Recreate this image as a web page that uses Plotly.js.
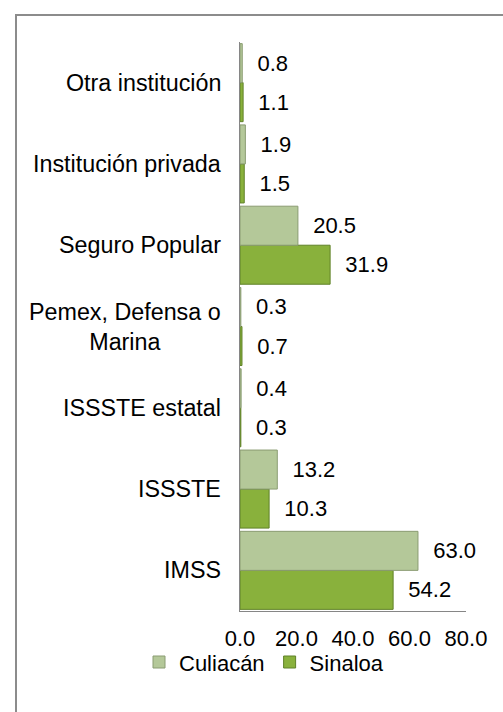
<!DOCTYPE html>
<html>
<head>
<meta charset="utf-8">
<script src="https://cdn.plot.ly/plotly-3.0.1.min.js"></script>
<style>
  body { margin: 0; background: #fff; }
  #chart { width: 503px; height: 712px; }
</style>
</head>
<body>
<div id="chart"></div>
<script>
// categories, bottom to top as in the picture
var categories = ["IMSS", "ISSSTE", "ISSSTE estatal", "Pemex, Defensa o Marina",
                  "Seguro Popular", "Institución privada", "Otra institución"];
var categoryLabels = ["IMSS", "ISSSTE", "ISSSTE estatal", "Pemex, Defensa o<br>Marina",
                      "Seguro Popular", "Institución privada", "Otra institución"];
var culiacan = [63.0, 13.2, 0.4, 0.3, 20.5, 1.9, 0.8];
var sinaloa = [54.2, 10.3, 0.3, 0.7, 31.9, 1.5, 1.1];
var xTicks = [0, 20, 40, 60, 80];

var FONT = "Liberation Sans, Arial, sans-serif";
var FS = 22;

function make_trace(name, values, fill, edge){
	return {
	  type: "bar",
	  orientation: "h",
	  name: name,
	  y: categories,
	  x: values,
	  marker: {color: fill, line: {color: edge, width: 1}},
	  text: values.map(function(v){ return "\u00a0\u00a0" + v.toFixed(1); }),
	  textposition: "outside",
	  textfont: {family: FONT, size: FS, color: "#000"},
	  cliponaxis: false,
	  hoverinfo: "none"
	};
}

// Sinaloa first so it sits lower in each group, Culiacán on top
var data = [
	make_trace("Sinaloa", sinaloa, "#89b13c", "#5f8128"),
	make_trace("Culiacán", culiacan, "#b4c899", "#8a9c72")
];

// category labels as annotations so the two-line one can be centred
var annotations = [];
for (var i = 0; i < categories.length; i++) {
	annotations.push({
	  xref: "paper", yref: "y",
	  x: -17 / 226, y: categories[i],
	  xanchor: "right", yanchor: "middle",
	  align: "center",
	  text: categoryLabels[i],
	  showarrow: false,
	  font: {family: FONT, size: 23.3, color: "#000"}
	});
}

var layout = {
  width: 503, height: 712,
  margin: {l: 240, r: 37, t: 42, b: 101},
  paper_bgcolor: "#fff", plot_bgcolor: "#fff",
  barmode: "group",
  bargap: 0.04,
  bargroupgap: 0,
  showlegend: true,
  font: {family: FONT, size: FS, color: "#000"},
  xaxis: {
	range: [0, 80],
	tickvals: xTicks,
	ticktext: xTicks.map(function(v){ return v.toFixed(1); }),
	showgrid: false, zeroline: false,
	showline: true, linecolor: "#868686", linewidth: 1,
	ticks: "", ticklabelstandoff: 8,
	tickfont: {family: FONT, size: FS, color: "#000"},
	fixedrange: true
  },
  yaxis: {
	type: "category",
	categoryorder: "array", categoryarray: categories,
	showticklabels: false,
	showgrid: false, zeroline: false,
	showline: true, linecolor: "#868686", linewidth: 1,
	ticks: "",
	fixedrange: true
  },
  legend: {
	orientation: "h",
	traceorder: "reversed",
	x: (139 - 240) / 226, xanchor: "left",
	y: -0.09, yanchor: "middle",
	bgcolor: "rgba(0,0,0,0)",
	font: {family: FONT, size: FS, color: "#000"},
	itemwidth: 30
  },
  annotations: annotations,
  shapes: [{
	type: "rect", xref: "paper", yref: "paper",
	x0: (16 - 240) / 226, x1: (520 - 240) / 226,
	y0: (611 - 730) / 569, y1: (611 - 15) / 569,
	line: {color: "#8c8c8c", width: 2},
	fillcolor: "rgba(0,0,0,0)"
  }]
};

Plotly.newPlot("chart", data, layout, {displayModeBar: false, staticPlot: true});
</script>
</body>
</html>
